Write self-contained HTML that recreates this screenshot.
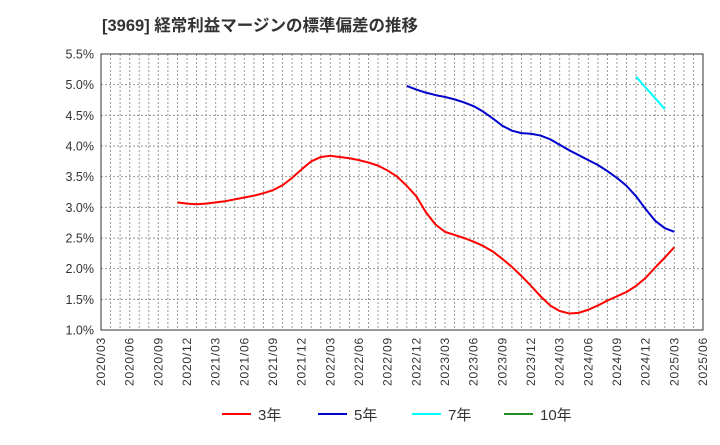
<!DOCTYPE html>
<html><head><meta charset="utf-8"><style>
body{margin:0;background:#fff;width:720px;height:440px;overflow:hidden;font-family:"Liberation Sans","Noto Sans CJK JP",sans-serif;}
</style></head><body>
<svg id="chart" width="720" height="440" xmlns="http://www.w3.org/2000/svg" font-family="Liberation Sans, Noto Sans CJK JP, sans-serif">
<text x="102" y="31" font-size="16.5" font-weight="bold" fill="#333">[3969]  経常利益マージンの標準偏差の推移</text>
<g id="grid"></g><g id="axes"></g><g id="series"></g><g id="legend"></g>
</svg>
<script>
const yTicks=[1.0,1.5,2.0,2.5,3.0,3.5,4.0,4.5,5.0,5.5];
const xTickLabels=["2020/03","2020/06","2020/09","2020/12","2021/03","2021/06","2021/09","2021/12","2022/03","2022/06","2022/09","2022/12","2023/03","2023/06","2023/09","2023/12","2024/03","2024/06","2024/09","2024/12","2025/03","2025/06"];
const s3Start=8;
const s3=[3.08,3.06,3.05,3.06,3.08,3.10,3.13,3.16,3.19,3.23,3.28,3.36,3.48,3.62,3.75,3.82,3.84,3.82,3.80,3.77,3.73,3.68,3.60,3.50,3.35,3.18,2.92,2.72,2.60,2.55,2.50,2.44,2.37,2.28,2.16,2.03,1.88,1.72,1.55,1.40,1.31,1.27,1.28,1.33,1.40,1.48,1.55,1.62,1.72,1.85,2.02,2.18,2.35];
const s5Start=32;
const s5=[4.98,4.92,4.87,4.83,4.80,4.76,4.71,4.65,4.56,4.45,4.33,4.25,4.21,4.20,4.17,4.11,4.02,3.93,3.85,3.77,3.69,3.59,3.48,3.35,3.18,2.97,2.78,2.66,2.60];
const s7Start=56;
const s7=[5.13,4.95,4.78,4.60];
const s10=[];
const L=101,R=703,T=54,B=330,NM=63,YMIN=1,YMAX=5.5;
const xs=m=>L+(R-L)*m/NM;
const ys=v=>B-(B-T)*(v-YMIN)/(YMAX-YMIN);
const NS="http://www.w3.org/2000/svg";
function mk(tag,attrs,parent){const e=document.createElementNS(NS,tag);for(const k in attrs)e.setAttribute(k,attrs[k]);parent.appendChild(e);return e;}
const grid=document.getElementById('grid'),axes=document.getElementById('axes'),ser=document.getElementById('series'),leg=document.getElementById('legend');
for(let m=1;m<NM;m++){const l=mk('line',{x1:xs(m),x2:xs(m),y1:T,y2:B,stroke:'#999','stroke-dasharray':'2,2','stroke-width':1},grid);

}
yTicks.forEach(v=>{if(v>YMIN&&v<YMAX){const l=mk('line',{x1:L,x2:R,y1:ys(v),y2:ys(v),stroke:'#999','stroke-dasharray':'2,2','stroke-width':1},grid);

}
const t=mk('text',{x:L-7,y:ys(v)+4.5,'text-anchor':'end','font-size':12.5,fill:'#333'},axes);t.textContent=v.toFixed(1)+'%';

});
xTickLabels.forEach((s,i)=>{const x=xs(i*3)+4;const t=mk('text',{x:0,y:0,transform:`translate(${x},${B+7}) rotate(-90)`,'text-anchor':'end','font-size':12,'letter-spacing':0.8,fill:'#333'},axes);t.textContent=s;

});
const fr=mk('rect',{x:L,y:T,width:R-L,height:B-T,fill:'none',stroke:'#333','stroke-width':1},axes);


function line(data,start,color,name){if(!data.length)return;const p=mk('polyline',{points:data.map((v,i)=>xs(start+i)+','+ys(v)).join(' '),fill:'none',stroke:color,'stroke-width':2,'stroke-linejoin':'round'},ser);

}
line(s3,s3Start,'#f00','series-3y');
line(s5,s5Start,'#00c','series-5y');
line(s7,s7Start,'#0ff','series-7y');
line(s10,0,'#228b22','series-10y');
const items=[['3年','#f00',222],['5年','#00c',318],['7年','#0ff',412],['10年','#228b22',504]];
items.forEach(([lab,c,x])=>{const g=mk('g',{},leg);


mk('line',{x1:x,x2:x+29,y1:414,y2:414,stroke:c,'stroke-width':2},g);
const t=mk('text',{x:x+36,y:420,'font-size':15,fill:'#333'},g);t.textContent=lab;});
</script>
</body></html>
